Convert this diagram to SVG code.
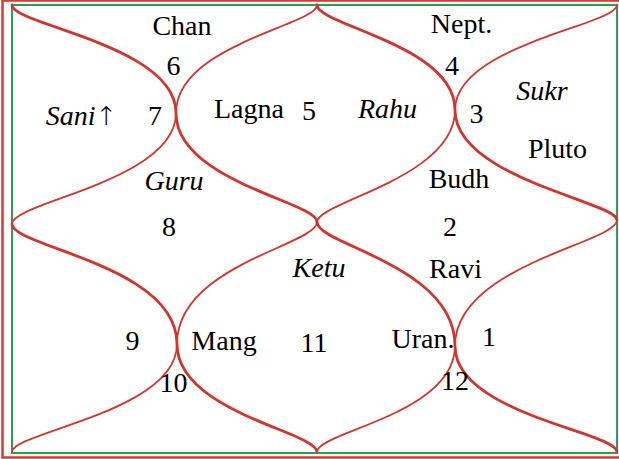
<svg xmlns="http://www.w3.org/2000/svg" width="619" height="459" viewBox="0 0 619 459">
<style>
.t{font-family:"Liberation Serif","Times New Roman",serif;font-size:28px;fill:#000;text-anchor:middle}
.i{font-style:italic}
.a{font-family:"DejaVu Sans",sans-serif;font-size:26px;font-style:normal;font-weight:200}
.c{fill:none;stroke:#d0352e;stroke-linecap:round}
.k{stroke-width:2.8}
.n{stroke-width:1.8}
</style>
<rect x="0" y="0" width="619" height="459" fill="#fff"/>
<rect x="2.5" y="0.5" width="622" height="457" fill="none" stroke="#d63a30" stroke-width="2.5"/>
<rect x="12" y="5" width="605" height="448" fill="none" stroke="#2e9e52" stroke-width="2"/>
<g id="connectors">
<path class="c k" d="M12,5 C12,25 176,45 176,113 C176,181 317,202 317,222"/>
<path class="c n" d="M317,5 C317,25 176,45 176,113 C176,181 12,202 12,224"/>
<path class="c k" d="M317,5 C317,25 455,45 455,110 C455,178 617,202 617,220"/>
<path class="c n" d="M617,5 C617,25 455,45 455,110 C455,178 317,202 317,222"/>
<path class="c k" d="M12,224 C12,247 177,265 177,344 C177,412 317,432 317,452"/>
<path class="c n" d="M317,222 C317,245 177,265 177,344 C177,412 12,432 12,452"/>
<path class="c k" d="M317,222 C317,245 455,265 455,346 C455,414 617,432 617,452"/>
<path class="c n" d="M617,220 C617,243 455,265 455,346 C455,414 317,432 317,452"/>
</g>
<g id="house-6"><text class="t" x="182" y="35">Chan</text><text class="t" x="173.5" y="75">6</text></g>
<g id="house-7"><text class="t i" x="81.5" y="125">Sani<tspan class="a">↑</tspan></text><text class="t" x="155" y="125">7</text></g>
<g id="house-5"><text class="t" x="249" y="118">Lagna</text><text class="t" x="309" y="120">5</text></g>
<g id="house-8"><text class="t i" x="174" y="190">Guru</text><text class="t" x="169" y="236">8</text></g>
<g id="house-4"><text class="t" x="461.5" y="33">Nept.</text><text class="t" x="452" y="75">4</text></g>
<g id="house-3"><text class="t i" x="542" y="100">Sukr</text><text class="t" x="476.5" y="123">3</text><text class="t" x="557.5" y="158">Pluto</text></g>
<g id="house-rahu"><text class="t i" x="387.5" y="118">Rahu</text></g>
<g id="house-2"><text class="t" x="459" y="188">Budh</text><text class="t" x="450" y="236">2</text></g>
<g id="house-11"><text class="t i" x="319" y="277">Ketu</text><text class="t" x="314" y="352">11</text></g>
<g id="house-1"><text class="t" x="455.5" y="278">Ravi</text><text class="t" x="489" y="346">1</text></g>
<g id="house-9"><text class="t" x="132.5" y="350">9</text></g>
<g id="house-10"><text class="t" x="224" y="350">Mang</text><text class="t" x="173.5" y="392">10</text></g>
<g id="house-12"><text class="t" x="423" y="348">Uran.</text><text class="t" x="455" y="390">12</text></g>
</svg>
